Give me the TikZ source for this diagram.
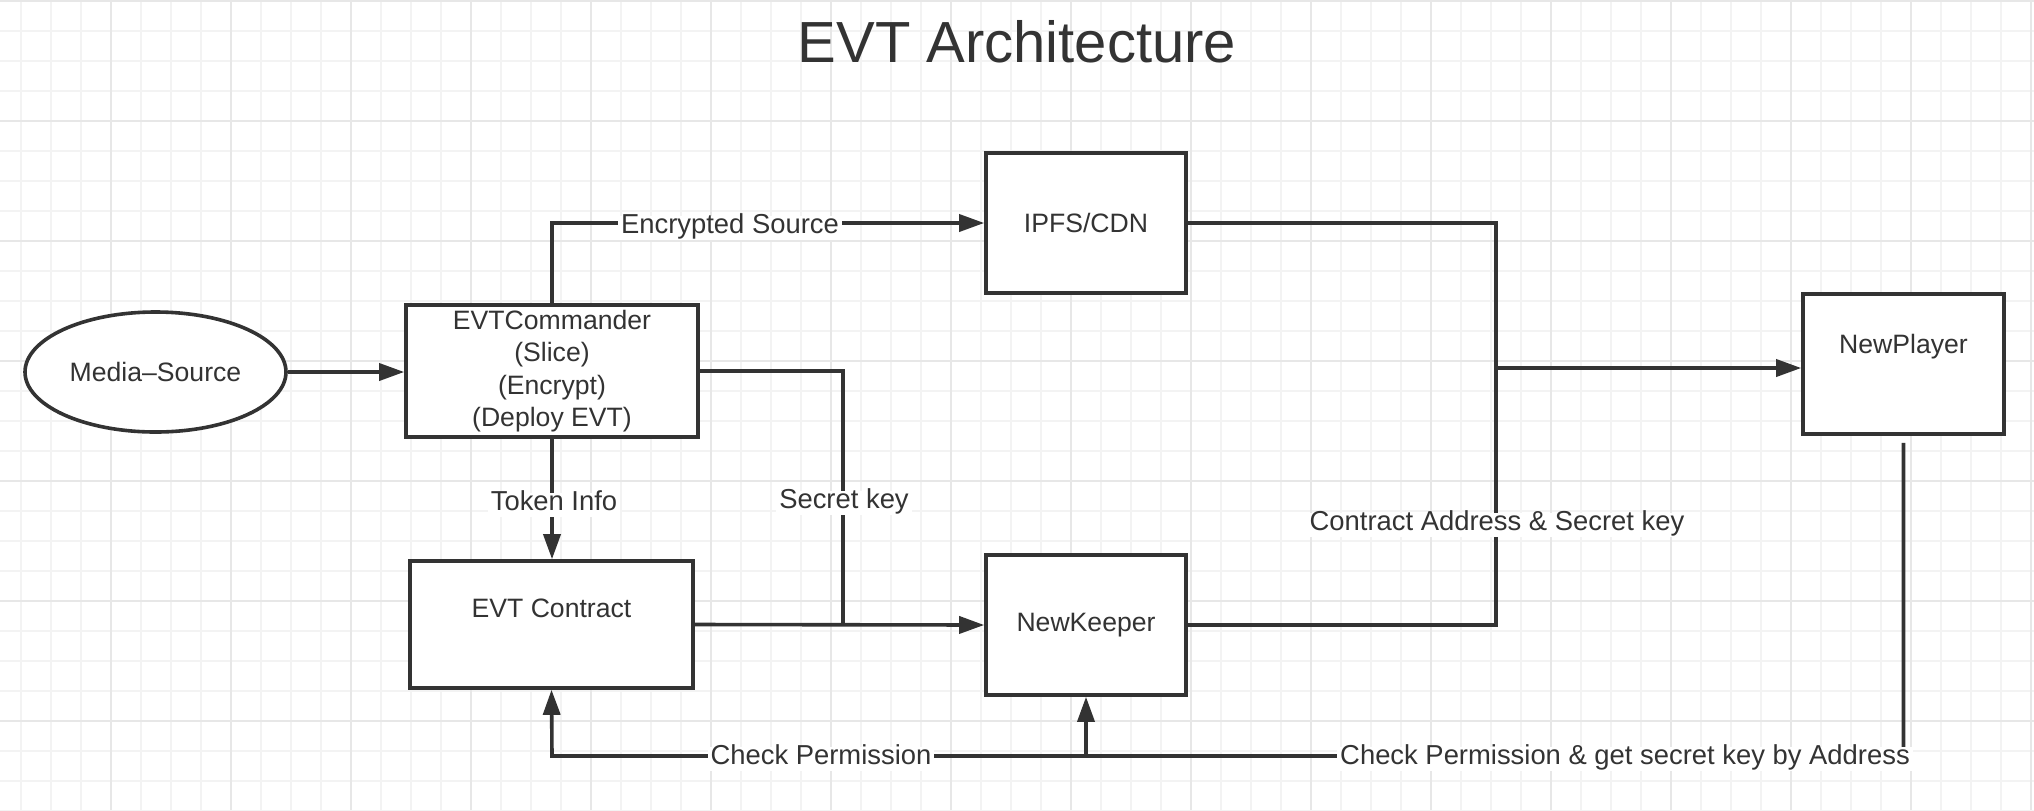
\documentclass[tikz,border=0pt]{standalone}
\usepackage{fontspec}
\setmainfont{Liberation Sans}
\usetikzlibrary{arrows.meta,shapes.geometric}
\definecolor{ink}{HTML}{333333}
\definecolor{gridminor}{HTML}{F3F3F3}
\definecolor{gridmajor}{HTML}{E7E7E7}
\begin{document}
\begin{tikzpicture}[x=0.5pt,y=-0.5pt,
  conn/.style={draw=ink,line width=1.8pt},
  arr/.style={conn,-{Triangle[length=12.5pt,width=8.5pt]}},
  txt/.style={text=ink,font=\fontsize{13.3}{16.25}\selectfont,align=center},
  boxnode/.style={draw=ink,line width=1.8pt,fill=white,inner sep=0pt,txt},
  lbl/.style={txt,font=\fontsize{13.7}{16.25}\selectfont,fill=white,inner sep=1.5pt,text height=0.72em,text depth=0.21em},
  gminor/.style={draw=gridminor,line width=0.75pt},
  gmajor/.style={draw=gridmajor,line width=0.95pt}
]
\useasboundingbox (0,0) rectangle (2034,810);
\fill[white] (0,0) rectangle (2034,810);
% grid
\foreach \x in {21,51,...,2031} \draw[gminor] (\x,0) -- (\x,810);
\foreach \y in {1,31,...,811} \draw[gminor] (0,\y) -- (2034,\y);
\foreach \x in {111,231,...,2031} \draw[gmajor] (\x,0) -- (\x,810);
\foreach \y in {1,121,...,721} \draw[gmajor] (0,\y) -- (2034,\y);

% title
\node[text=ink,font=\fontsize{29}{34}\selectfont,anchor=base] (title) at (1017,62) {EVT Architecture};

% nodes
\node[boxnode,ellipse,minimum width=130.5pt,minimum height=60pt] (ms) at (155.5,372) {};
\node[txt] (mst) at (ms.center) {Media–Source};
\node[boxnode,minimum width=146pt,minimum height=66pt] (cmd) at (552,371) {EVTCommander\\(Slice)\\(Encrypt)\\(Deploy EVT)};
\node[boxnode,minimum width=100pt,minimum height=70pt] (ipfs) at (1086,223) {IPFS/CDN};
\node[boxnode,minimum width=100.5pt,minimum height=70pt] (np) at (1903.5,364) {};
\node[txt] (npt) at ([yshift=8.5pt]np.center) {NewPlayer};
\node[boxnode,minimum width=141.5pt,minimum height=63.5pt] (ec) at (551.5,624.5) {};
\node[txt] (ect) at ([yshift=8pt]ec.center) {EVT Contract};
\node[boxnode,minimum width=100pt,minimum height=70pt] (nk) at (1086,625) {NewKeeper};

% junction coordinates
\coordinate (skj) at (843,625);
\coordinate (j1) at (1496,368);
\coordinate (c1) at (552,756);
\coordinate (c2) at (1086,756);

% connectors
\draw[arr] (ms.east) -- (cmd.west |- ms.east);
\draw[arr] (cmd.north) |- (ipfs.west);
\draw[arr] (cmd.south) -- (cmd.south |- ec.north);
\draw[conn] (cmd.east) -| (skj);
\draw[arr] (ec.east) -- (nk.west);
\draw[conn] (ipfs.east) -| (j1);
\draw[conn] (nk.east) -| (j1);
\draw[arr] (j1) -- (j1 -| np.west);
\draw[arr,shorten <=3.5pt] (np.south) |- (c1) -- (ec.south);
\draw[arr] (c2) -- (nk.south);

% labels
\node[lbl] (l1) at (730,228) {Encrypted Source};
\node[lbl] (l2) at (554,505) {Token Info};
\node[lbl] (l3) at (844,503) {Secret key};
\node[lbl] (l4) at (1497,525) {Contract Address \& Secret key};
\node[lbl] (l5) at (821,759) {Check Permission};
\node[lbl] (l6) at (1625,759) {Check Permission \& get secret key by Address};
\end{tikzpicture}
\end{document}
